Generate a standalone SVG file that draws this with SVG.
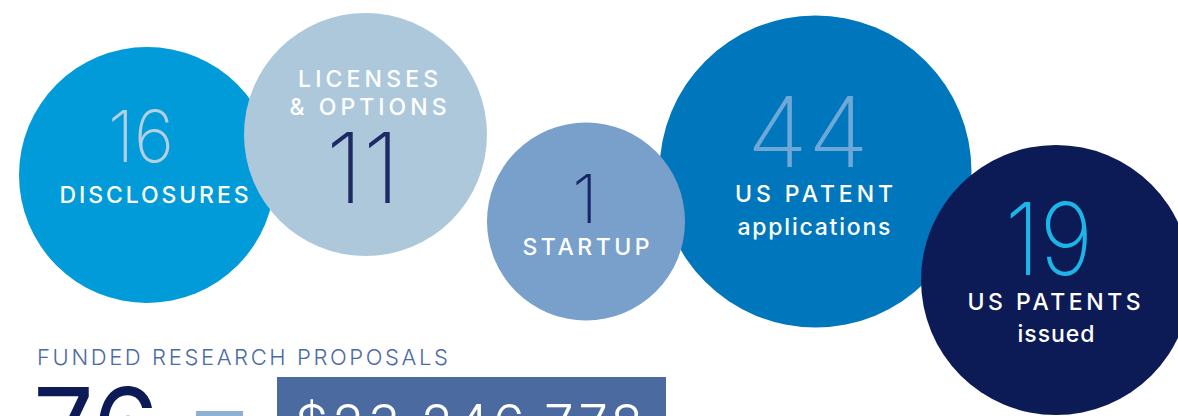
<svg xmlns="http://www.w3.org/2000/svg" width="1178" height="416" viewBox="0 0 1178 416">
<style>
text{font-family:"Inter","Lato","Liberation Sans",sans-serif;text-anchor:middle}
.num{font-weight:200}
.lbl{font-weight:500;fill:#ffffff;font-size:23px}
</style>
<rect width="1178" height="416" fill="#ffffff"/>
<g id="disclosures">
<circle cx="147" cy="175" r="128" fill="#009bd8"/>
<text class="num" x="141" y="162" font-size="72" fill="#b5cfe2" textLength="66" lengthAdjust="spacingAndGlyphs">16</text>
<text class="lbl" x="154" y="203" textLength="189" lengthAdjust="spacing">DISCLOSURES</text>
</g>
<g id="licenses">
<circle cx="365.5" cy="134.5" r="121.5" fill="#adc8db"/>
<text class="lbl" x="368" y="87" textLength="140" lengthAdjust="spacing">LICENSES</text>
<text class="lbl" x="368" y="115" textLength="157" lengthAdjust="spacing">&amp; OPTIONS</text>
<text class="num" x="363" y="203" font-size="97" fill="#1e2a64">11</text>
</g>
<g id="patent-apps">
<circle cx="815.5" cy="171.5" r="156" fill="#0077bd"/>
<text class="num" x="808" y="167" font-size="97" fill="#6ea8d8" textLength="122" lengthAdjust="spacingAndGlyphs">44</text>
<text class="lbl" x="814" y="202" textLength="158" lengthAdjust="spacing">US PATENT</text>
<text class="lbl" x="814" y="235" textLength="153" lengthAdjust="spacing">applications</text>
</g>
<g id="startup">
<circle cx="586" cy="221.5" r="99" fill="#799fcb"/>
<text class="num" x="585" y="223" font-size="67" fill="#172466">1</text>
<text class="lbl" x="586" y="255" textLength="127" lengthAdjust="spacing">STARTUP</text>
</g>
<g id="patents-issued">
<circle cx="1056" cy="280" r="135" fill="#0c1a55"/>
<text class="num" x="1049" y="275" font-size="100" fill="#1cb5e8" textLength="88" lengthAdjust="spacingAndGlyphs">19</text>
<text class="lbl" x="1054" y="310" textLength="173" lengthAdjust="spacing">US PATENTS</text>
<text class="lbl" x="1056" y="342" textLength="77" lengthAdjust="spacing">issued</text>
</g>
<g id="funded">
<text x="37" y="365" font-size="22" font-weight="300" fill="#4c6aa3" style="text-anchor:start" textLength="411" lengthAdjust="spacing">FUNDED RESEARCH PROPOSALS</text>
<text x="33" y="470" font-size="114" font-weight="400" fill="#0c1a55" style="text-anchor:start" textLength="126" lengthAdjust="spacingAndGlyphs">76</text>
<rect x="196" y="411" width="47" height="10" fill="#8fb0d6"/>
<rect x="277" y="377" width="389" height="60" fill="#4a6aa0"/>
<text x="295" y="443" font-size="53" font-weight="300" fill="#ffffff" style="text-anchor:start" textLength="348" lengthAdjust="spacing">$23,246,778</text>
</g>
</svg>
